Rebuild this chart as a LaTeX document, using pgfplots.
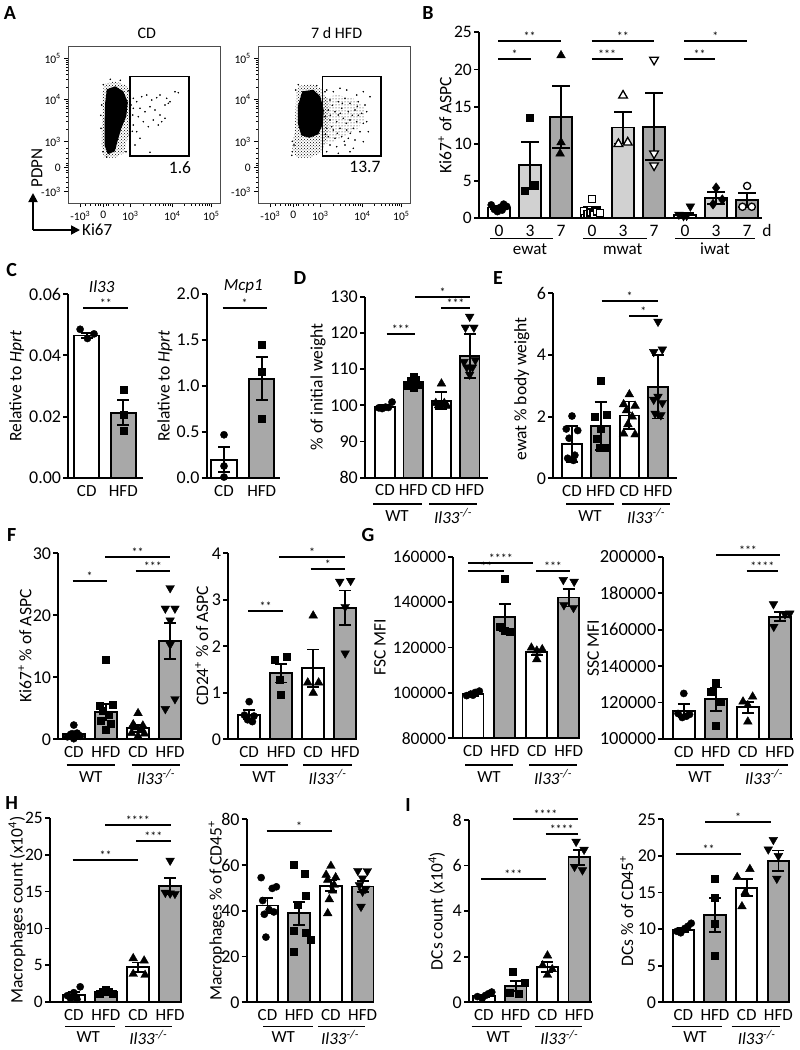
\documentclass[border=0pt]{standalone}
\usepackage{fontspec}
\setmainfont{Carlito}
\usepackage{pgfplots}
\pgfplotsset{compat=1.18}
\usetikzlibrary{arrows.meta,patterns}
\definecolor{hfd}{gray}{0.66}
\definecolor{lg}{gray}{0.82}
\newcommand{\fs}[1]{\fontsize{#1}{#1}\selectfont}
\newcommand{\KO}{\textit{Il33}\textsuperscript{\textit{-/-}}}
\pgfplotsset{
  gp/.style={scale only axis, clip=false, anchor=south west,
    axis lines=left, axis line style={line width=1.8pt,-},
    x axis line style={-}, y axis line style={-},
    tick style={line width=1.8pt, black},
    major tick length=5pt, tick align=outside,
    xtick style={draw=none},
    scaled y ticks=false,
    xtick={0,1,2,3}, xticklabels={CD,HFD,CD,HFD},
    tick label style={font=\fs{17}},
    xticklabel style={inner sep=2pt},
    yticklabel style={inner sep=2pt},
  },
  bar/.style={ybar, bar shift=0pt, draw=black, line width=1.8pt,
    /pgfplots/error bars/y dir=both, /pgfplots/error bars/y explicit,
    /pgfplots/error bars/error bar style={line width=1.8pt, black},
    /pgfplots/error bars/error mark options={rotate=90, line width=1.8pt, black, mark size=#1}},
  bar/.default=6pt,
  mc/.style={only marks, black, mark=*, mark size=3.6pt},
  ms/.style={only marks, black, mark=square*, mark size=3.5pt},
  mt/.style={only marks, black, mark=triangle*, mark size=5pt},
  mi/.style={only marks, black, mark=triangle*, mark size=5pt, every mark/.append style={rotate=180}},
  md/.style={only marks, black, mark=diamond*, mark size=5pt},
  open/.style={every mark/.append style={fill=white, line width=1.3pt}},
  flow/.style={scale only axis, anchor=south west, width=151.7pt, height=156.8pt,
    xmin=0, xmax=151.7, ymin=0, ymax=156.8,
    axis line style={line width=0.8pt, black!70},
    tick pos=left, tick align=outside, tick style={line width=0.7pt, black},
    major tick length=4pt, minor tick length=2.5pt,
    xtick={12,35,62,104,143}, ytick={11.6,35.6,61.6,104,145},
    xticklabels={-10\textsuperscript{3},0,10\textsuperscript{3},10\textsuperscript{4},10\textsuperscript{5}},
    yticklabels={-10\textsuperscript{3},0,10\textsuperscript{3},10\textsuperscript{4},10\textsuperscript{5}},
    minor xtick={17,22,27,30,32,38,40,45,50,55,74.6,82,87.3,91.4,94.7,97.5,99.9,102.1,115.8,122.6,127.5,131.3,134.4,137,139.3,141.2},
    minor ytick={16,21,26,31,33,38,40,45,50,55,74.4,81.8,87.1,91.2,94.6,97.4,99.9,102.1,116.3,123.6,128.7,132.7,135.9,138.6,141,143.1},
    tick label style={font=\fs{11.5}}},
  dots/.style={only marks, mark=*, mark size=0.55pt, black},
}
\begin{document}
\begin{tikzpicture}
\useasboundingbox (0,0) rectangle (800pt,-1050pt);

% ---------------- A: flow plots ----------------
\begin{axis}[flow, at={(68.3pt,-203.3pt)}]
\addplot[pattern=crosshatch dots, draw=none] coordinates {(36.7,119.3)(46.7,122.0)(58.4,117.6)(63.4,105.0)(63.4,85.0)(59.4,65.0)(56.0,50.6)(46.7,45.6)(35.7,45.6)(33.4,58.3)(34.0,91.6)(34.0,111.6)} --cycle;
\addplot[fill=black, draw=none] coordinates {(38.5,114)(47,117)(55,112)(59.5,101)(58,87)(53,75)(49.5,63)(46.5,52)(39.5,49)(36.3,58)(36.3,80)(36.8,100)} --cycle;
\addplot[dots] coordinates {(65.0,105.0)(68.4,101.6)(73.4,106.6)(78.4,108.3)(83.4,103.3)(88.4,105.6)(91.7,108.3)(98.4,105.0)(106.7,111.6)(110.0,110.6)(71.7,95.0)(76.7,91.6)(81.7,96.6)(86.7,93.3)(91.7,88.3)(96.7,98.3)(100.0,100.0)(101.7,101.6)(70.0,86.6)(75.0,81.6)(80.0,76.6)(90.0,78.3)(93.4,81.6)(68.4,71.6)(71.7,65.0)(66.7,58.3)(81.7,51.0)(65.0,78.3)(85.0,83.3)(96.7,85.0)(35.0,118.6)(33.4,98.3)(32.7,75.0)(34.7,51.6)(38.4,46.3)(60.0,112.6)(62.7,98.3)(64.4,88.3)(61.0,68.3)(57.7,51.6)(32.5,88)(65,95)(64,72)(42,124)(52,123)};
\addplot[draw=black, line width=1.5pt] coordinates {(61.7,47.3)(120.7,47.3)(120.7,126.6)(61.7,126.6)} --cycle;
\end{axis}

\begin{axis}[flow, at={(258.3pt,-203.3pt)}]
\addplot[pattern=dots, draw=none] coordinates {(63.4,105)(78.4,108.3)(95.0,105)(105.0,96.6)(106.7,85)(100.0,75)(88.4,68.3)(75.0,61.6)(65.0,58.3)(63.4,75)} --cycle;
\addplot[pattern=crosshatch dots, draw=none] coordinates {(41.7,117.6)(53.4,119.3)(63.4,114.3)(70.0,101.6)(70.0,71.6)(64.4,51.6)(51.7,45.6)(38.4,45.6)(34.0,55.0)(36.7,75.0)(37.4,98.3)(38.0,111.6)} --cycle;
\addplot[fill=black, draw=none] coordinates {(44,112)(55,113.5)(62,107)(65.5,93)(64.5,79)(60,69)(51,65.5)(43,68)(39.5,80)(39.5,97)} --cycle;
\addplot[dots] coordinates {(68.4,113.3)(75.0,111.6)(81.7,115.0)(88.4,113.3)(98.4,108.3)(105.0,111.6)(111.7,106.6)(71.7,103.3)(80.0,101.6)(86.7,105.0)(91.7,100.0)(100.0,101.6)(106.7,98.3)(70.0,93.3)(76.7,91.6)(83.4,95.0)(90.0,91.6)(96.7,93.3)(103.4,90.0)(108.4,91.6)(71.7,83.3)(78.4,81.6)(85.0,85.0)(91.7,83.3)(98.4,81.6)(105.0,80.0)(68.4,75.0)(75.0,73.3)(81.7,75.0)(88.4,73.3)(95.0,75.0)(101.7,71.6)(70.0,66.6)(76.7,65.0)(83.4,66.6)(90.0,65.0)(96.7,63.3)(71.7,58.3)(78.4,56.6)(86.7,58.3)(95.0,55.0)(68.4,51.6)(80.0,50.0)(91.7,51.6)(105.0,61.6)(110.0,71.6)(108.4,81.6)(66.7,86.6)(73.4,76.6)(80.0,88.3)(35.7,58.3)(34.0,51.6)(37.4,113.3)(40.0,118.6)(58.4,117.6)(66.7,111.6)(74,98)(82,90)(88,80)(94,88)(72,88)(79,70)(86,62)(99,97)(67,69)(92,70)(100,88)(84,100)(34,62)(33.5,48)};
\addplot[draw=black, line width=1.5pt] coordinates {(64,47.3)(122.7,47.3)(122.7,126.6)(64,126.6)} --cycle;
\end{axis}

% ---------------- B ----------------
\begin{axis}[gp, at={(479pt,-218.3pt)}, width=283pt, height=186pt,
  xmin=-0.645, xmax=8.48, ymin=0, ymax=25,
  xtick={0,1,2,3,4,5,6,7,8}, xticklabels={0,3,7,0,3,7,0,3,7},
  ytick={0,5,10,15,20,25}, yticklabels={0,5,10,15,20,25},
  tick label style={font=\fs{17.5}}]
\addplot[bar=9pt, bar width=21.7pt, fill=white] coordinates {(0,1.45)+-(0,0.25) (3,1.0)+-(0,0.6) (6,0.4)+-(0,0.35)};
\addplot[bar=9pt, bar width=21.7pt, fill=lg] coordinates {(1,7.13)+-(0,3.14) (4,12.2)+-(0,2.14) (7,2.7)+-(0,0.8)};
\addplot[bar=9pt, bar width=21.7pt, fill=hfd] coordinates {(2,13.6)+-(0,4.17) (5,12.3)+-(0,4.5) (8,2.45)+-(0,0.95)};
\addplot[mc] coordinates {(-0.25,1.8)(-0.15,1.2)(-0.05,0.9)(0.05,1.5)(0.15,1.9)(0.25,1.6)(0.1,1.1)};
\addplot[ms] coordinates {(0.84,3.7)(1.16,4.5)(1,13.5)};
\addplot[mt] coordinates {(2,21.9)(2,10.2)(1.97,8.7)};
\addplot[ms, open] coordinates {(2.75,1.0)(2.85,0.6)(2.95,0.8)(3,2.55)(3.05,0.5)(3.15,0.9)(3.25,0.7)};
\addplot[mt, open] coordinates {(4,16.5)(3.85,10.0)(4.15,10.2)};
\addplot[mi, open] coordinates {(5,21.3)(5,8.7)(5,7.1)};
\addplot[mi] coordinates {(5.8,0.5)(5.95,0.3)(6.05,0.35)(6.17,1.6)};
\addplot[md] coordinates {(7,4.1)(6.9,1.9)(7.2,2.5)};
\addplot[mc, open] coordinates {(8,4.35)(7.85,1.55)(8.15,1.55)};
\end{axis}

% ---------------- C ----------------
\begin{axis}[gp, at={(68.3pt,-478pt)}, width=75pt, height=184pt,
  xmin=-0.503, xmax=1.546, ymin=0, ymax=0.06,
  xtick={0,1}, xticklabels={CD,HFD},
  ytick={0,0.02,0.04,0.06}, yticklabels={0.00,0.02,0.04,0.06},
  yticklabel style={font=\fs{18}}]
\addplot[bar, bar width=25.3pt, fill=white] coordinates {(0,0.0465)+-(0,0.0009)};
\addplot[bar, bar width=25.3pt, fill=hfd] coordinates {(1,0.0213)+-(0,0.0041)};
\addplot[mc] coordinates {(-0.18,0.0485)(0.02,0.0455)(0.2,0.047)};
\addplot[ms] coordinates {(1,0.0288)(1,0.0205)(1,0.0153)};
\end{axis}

\begin{axis}[gp, at={(206.7pt,-478pt)}, width=73.3pt, height=184pt,
  xmin=-0.459, xmax=1.485, ymin=0, ymax=2,
  xtick={0,1}, xticklabels={CD,HFD},
  ytick={0,0.5,1,1.5,2}, yticklabels={0.0,0.5,1.0,1.5,2.0},
  yticklabel style={font=\fs{18}}]
\addplot[bar, bar width=25.3pt, fill=white] coordinates {(0,0.2)+-(0,0.138)};
\addplot[bar, bar width=25.3pt, fill=hfd] coordinates {(1,1.08)+-(0,0.234)};
\addplot[mc] coordinates {(0,0.47)(0,0.13)(0,0.01)};
\addplot[ms] coordinates {(1,1.45)(1,1.16)(1,0.65)};
\end{axis}

% ---------------- D ----------------
\begin{axis}[gp, clip=true, clip mode=individual, at={(365pt,-477.7pt)}, width=123.3pt, height=181pt,
  xmin=-0.708, xmax=3.66, ymin=80, ymax=130,
  ytick={80,90,100,110,120,130}, yticklabels={80,90,100,110,120,130},
  yticklabel style={font=\fs{18}}]
\addplot[bar, bar width=19.5pt, fill=white] coordinates {(0,99.6)+-(0,0.55) (2,101.3)+-(0,2.3)};
\addplot[bar, bar width=19.5pt, fill=hfd] coordinates {(1,106.5)+-(0,0.9) (3,113.6)+-(0,6.0)};
\addplot[mc] coordinates {(-0.22,99.3)(-0.1,99.1)(0.02,99.5)(0.12,99.4)(0.25,100.9)};
\addplot[ms] coordinates {(0.8,105.3)(0.9,106.8)(1.0,108.0)(1.1,107.2)(1.2,105.8)(1.0,104.8)};
\addplot[mt] coordinates {(2,106.0)(1.8,100.6)(1.9,100.0)(2.0,100.2)(2.1,100.6)(2.2,99.8)};
\addplot[mi] coordinates {(3,124.5)(2.85,121.5)(3.15,121.5)(2.8,112)(3.2,112.5)(2.9,110.5)(3.1,110.5)(3,108.5)};
\end{axis}

% ---------------- E ----------------
\begin{axis}[gp, at={(553.3pt,-478.3pt)}, width=123.4pt, height=185pt,
  xmin=-0.652, xmax=3.652, ymin=0, ymax=6,
  ytick={0,2,4,6}, yticklabels={0,2,4,6},
  yticklabel style={font=\fs{18}}]
\addplot[bar, bar width=19.4pt, fill=white] coordinates {(0,1.12)+-(0,0.58) (2,2.04)+-(0,0.45)};
\addplot[bar, bar width=19.4pt, fill=hfd] coordinates {(1,1.7)+-(0,0.77) (3,2.97)+-(0,1.03)};
\addplot[mc] coordinates {(0,2.02)(-0.2,1.6)(0.2,1.55)(-0.1,1.3)(0.1,0.75)(-0.15,0.65)(0.05,0.58)};
\addplot[ms] coordinates {(1,3.15)(0.8,2.0)(1.2,2.05)(1,1.6)(0.85,1.3)(1.15,1.0)(0.95,1.0)};
\addplot[mt] coordinates {(2,2.72)(1.8,2.4)(2.2,2.35)(1.9,2.2)(2.1,2.0)(1.95,1.75)(1.8,1.45)(2.2,1.42)};
\addplot[mi] coordinates {(3,5.08)(2.85,4.1)(3.15,4.18)(3,2.65)(2.85,2.55)(3.15,2.45)(2.9,2.1)(3.1,2.05)};
\end{axis}

% ---------------- F ----------------
\begin{axis}[gp, at={(58.3pt,-739.3pt)}, width=123.4pt, height=186pt,
  xmin=-0.483, xmax=3.36, ymin=0, ymax=30,
  ytick={0,10,20,30}, yticklabels={0,10,20,30},
  yticklabel style={font=\fs{18}}]
\addplot[bar, bar width=21.7pt, fill=white] coordinates {(0,0.85)+-(0,0.25) (2,1.77)+-(0,0.6)};
\addplot[bar, bar width=21.7pt, fill=hfd] coordinates {(1,4.4)+-(0,1.35) (3,15.8)+-(0,2.9)};
\addplot[mc] coordinates {(-0.2,0.4)(-0.1,0.8)(0,2.3)(0.1,1.0)(0.2,0.5)(0,0.1)(-0.05,0.9)(0.15,0.7)};
\addplot[ms] coordinates {(1,12.8)(0.8,5.4)(1.2,5.6)(0.9,4.6)(1.1,3.9)(0.85,3.0)(1.15,2.5)(1,1.5)};
\addplot[mt] coordinates {(2,4.2)(1.85,2.4)(2.15,2.2)(1.9,1.9)(2.1,1.6)(1.8,1.0)(2.2,0.9)(2,0.5)};
\addplot[mi] coordinates {(3,24.4)(2.85,21.1)(3.15,21.1)(3,19.2)(3,15.3)(3.15,6.5)(2.85,4.9)};
\end{axis}

\begin{axis}[gp, at={(228.3pt,-739.3pt)}, width=128.4pt, height=186pt,
  xmin=-0.653, xmax=3.36, ymin=0, ymax=4,
  ytick={0,1,2,3,4}, yticklabels={0,1,2,3,4},
  yticklabel style={font=\fs{18}}]
\addplot[bar, bar width=22pt, fill=white] coordinates {(0,0.53)+-(0,0.1) (2,1.53)+-(0,0.4)};
\addplot[bar, bar width=22pt, fill=hfd] coordinates {(1,1.42)+-(0,0.2) (3,2.83)+-(0,0.37)};
\addplot[mc] coordinates {(0,0.81)(-0.15,0.52)(0.15,0.5)(-0.05,0.42)(0.1,0.38)};
\addplot[ms] coordinates {(0.81,1.71)(1.17,1.78)(0.94,1.28)(1,0.97)};
\addplot[mt] coordinates {(2,2.66)(1.83,1.22)(2.17,1.22)(2,1.0)};
\addplot[mi] coordinates {(2.83,3.39)(3.17,3.41)(3,2.85)(3,1.85)};
\end{axis}

% ---------------- G ----------------
\begin{axis}[gp, clip=true, clip mode=individual, at={(453.3pt,-738.3pt)}, width=126.7pt, height=181.6pt,
  xmin=-0.617, xmax=3.354, ymin=80000, ymax=160000,
  ytick={80000,100000,120000,140000,160000}, yticklabels={80000,100000,120000,140000,160000},
  yticklabel style={font=\fs{17.5}}]
\addplot[bar, bar width=21pt, fill=white] coordinates {(0,99400)+-(0,700) (2,117900)+-(0,1200)};
\addplot[bar, bar width=21pt, fill=hfd] coordinates {(1,133300)+-(0,5900) (3,142000)+-(0,3900)};
\addplot[mc] coordinates {(-0.2,98800)(-0.07,99500)(0.07,100200)(0.2,100800)(0,99000)};
\addplot[ms] coordinates {(1,150400)(0.85,129200)(1.0,127400)(1.15,127000)};
\addplot[mt] coordinates {(1.83,119900)(2.0,118600)(2.17,119200)(2,114800)};
\addplot[mi] coordinates {(2.83,149800)(3.17,149000)(2.85,138700)(3.15,137500)};
\end{axis}

\begin{axis}[gp, clip=true, clip mode=individual, at={(663.3pt,-739pt)}, width=130pt, height=182.3pt,
  xmin=-0.64, xmax=3.42, ymin=100000, ymax=200000,
  ytick={100000,120000,140000,160000,180000,200000}, yticklabels={100000,120000,140000,160000,180000,200000},
  yticklabel style={font=\fs{18.5}}]
\addplot[bar, bar width=22pt, fill=white] coordinates {(0,115500)+-(0,3700) (2,117400)+-(0,3000)};
\addplot[bar, bar width=22pt, fill=hfd] coordinates {(1,121800)+-(0,6500) (3,167100)+-(0,2400)};
\addplot[mc] coordinates {(0,125000)(-0.18,114000)(0.18,113500)(-0.05,111800)(0.08,112500)};
\addplot[ms] coordinates {(1,131100)(0.85,126200)(1.15,120300)(1,107300)};
\addplot[mt] coordinates {(1.85,120500)(2.15,123200)(2,118500)(2,109500)};
\addplot[mi] coordinates {(2.8,174000)(3.16,168400)(3.31,168900)(2.81,161600)};
\end{axis}

% ---------------- H ----------------
\begin{axis}[gp, at={(50pt,-1002.3pt)}, width=131.7pt, height=184.6pt,
  xmin=-0.741, xmax=3.36, ymin=0, ymax=25,
  ytick={0,5,10,15,20,25}, yticklabels={0,5,10,15,20,25},
  yticklabel style={font=\fs{17.5}}]
\addplot[bar, bar width=21.7pt, fill=white] coordinates {(0,1.04)+-(0,0.35) (2,4.74)+-(0,0.65)};
\addplot[bar, bar width=21.7pt, fill=hfd] coordinates {(1,1.35)+-(0,0.15) (3,15.75)+-(0,1.12)};
\addplot[mc] coordinates {(-0.2,0.9)(0,1.3)(0.2,2.1)(-0.1,0.5)(0.1,0.4)};
\addplot[ms] coordinates {(0.8,1.2)(0.9,1.5)(1.0,1.7)(1.1,1.4)(1.2,1.1)};
\addplot[mt] coordinates {(1.85,5.96)(2.19,5.64)(1.85,3.84)(2.22,3.7)};
\addplot[mi] coordinates {(3,19.2)(2.85,14.85)(3.0,14.75)(3.15,14.7)};
\end{axis}

\begin{axis}[gp, at={(246.7pt,-1002.3pt)}, width=127.3pt, height=183pt,
  xmin=-0.656, xmax=3.36, ymin=0, ymax=80,
  ytick={0,20,40,60,80}, yticklabels={0,20,40,60,80},
  yticklabel style={font=\fs{18}}]
\addplot[bar, bar width=21.7pt, fill=white] coordinates {(0,42.3)+-(0,3.4) (2,51.0)+-(0,2.5)};
\addplot[bar, bar width=21.7pt, fill=hfd] coordinates {(1,38.9)+-(0,5.1) (3,50.6)+-(0,2.5)};
\addplot[mc] coordinates {(-0.2,54.5)(0.15,49.8)(0.28,50.5)(-0.15,44.5)(0.05,40.5)(0.2,39.5)(-0.1,38.5)(-0.05,28.5)};
\addplot[ms] coordinates {(0.84,60)(1.16,56.1)(1.19,46.8)(0.95,42.6)(0.82,31.3)(1.19,30.5)(0.82,22.1)(1.35,27.5)};
\addplot[mt] coordinates {(2,59.6)(1.85,55.7)(2.15,54.6)(1.9,53.5)(2.1,51.3)(2.05,48.8)(1.95,45)(1.9,38.9)};
\addplot[mi] coordinates {(2.85,57.5)(3.15,57.4)(3.0,54.2)(2.9,51.3)(3.1,49.7)(3.0,48.4)(2.95,41.8)};
\end{axis}

% ---------------- I ----------------
\begin{axis}[gp, at={(469pt,-1002.3pt)}, width=122.7pt, height=182.3pt,
  xmin=-0.465, xmax=3.39, ymin=0, ymax=8,
  ytick={0,2,4,6,8}, yticklabels={0,2,4,6,8},
  yticklabel style={font=\fs{18}}]
\addplot[bar, bar width=21.7pt, fill=white] coordinates {(0,0.28)+-(0,0.06) (2,1.56)+-(0,0.22)};
\addplot[bar, bar width=21.7pt, fill=hfd] coordinates {(1,0.72)+-(0,0.23) (3,6.36)+-(0,0.32)};
\addplot[mc] coordinates {(-0.2,0.25)(-0.05,0.18)(0.05,0.3)(0.15,0.38)(0.25,0.45)};
\addplot[ms] coordinates {(0.9,1.35)(1.3,0.86)(0.8,0.42)(1.1,0.37)};
\addplot[mt] coordinates {(2,2.05)(1.85,1.62)(2.15,1.45)(2,1.2)};
\addplot[mi] coordinates {(2.9,7.05)(3.15,6.7)(2.85,5.95)(3.1,5.8)};
\end{axis}

\begin{axis}[gp, at={(663.3pt,-1002.3pt)}, width=126.7pt, height=183pt,
  xmin=-0.631, xmax=3.366, ymin=0, ymax=25,
  ytick={0,5,10,15,20,25}, yticklabels={0,5,10,15,20,25},
  yticklabel style={font=\fs{18}}]
\addplot[bar, bar width=21.3pt, fill=white] coordinates {(0,9.9)+-(0,0.25) (2,15.66)+-(0,1.15)};
\addplot[bar, bar width=21.3pt, fill=hfd] coordinates {(1,11.9)+-(0,2.3) (3,19.35)+-(0,1.4)};
\addplot[mc] coordinates {(-0.2,9.7)(-0.08,9.5)(0.05,10.1)(0.15,10.4)(0.25,10.8)};
\addplot[ms] coordinates {(1,16.9)(1,14.3)(1,10.8)(1,6.4)};
\addplot[mt] coordinates {(2.1,18.2)(1.7,17.1)(1.95,15.0)(1.85,13.1)};
\addplot[mi] coordinates {(2.84,22.2)(2.68,20.9)(3.0,20.0)(2.95,16.9)};
\end{axis}

% ---------------- annotations ----------------
\begin{scope}[x=1pt,y=1pt]
\newcommand{\sig}[4]{\draw[line width=1.8pt] (#1,-#3) -- (#2,-#3);
  \node[font=\fs{12}, anchor=base, inner sep=0pt] at ({(#1+#2)/2},{0.5-#3}) {#4};}
\newcommand{\gline}[3]{\draw[line width=1.5pt] (#1,-#3) -- (#2,-#3);}
\newcommand{\glab}[3]{\node[font=\fs{17}, inner sep=0pt] at (#1,-#2) {#3};}
\newcommand{\ylab}[3]{\node[rotate=90, font=\fs{17.5}, inner sep=0pt] at (#1,-#2) {#3};}
\newcommand{\plab}[3]{\node[font=\fs{20}\bfseries, inner sep=0pt] at (#1,-#2) {#3};}
% panel letters
\plab{10}{13}{A}\plab{428}{13}{B}\plab{11.7}{270}{C}\plab{300}{278}{D}\plab{498}{278}{E}
\plab{11.7}{535}{F}\plab{368}{535}{G}\plab{11.7}{803}{H}\plab{408}{805}{I}
% A texts
\node[font=\fs{16}] at (146.7,-33.3) {CD};
\node[font=\fs{16}] at (336.7,-33.3) {7 d HFD};
\node[font=\fs{17.5}] at (180,-168) {1.6};
\node[font=\fs{17.5}] at (365,-167) {13.7};
\draw[line width=1.8pt, -{Triangle[length=9pt,width=9pt]}] (33,-230) -- (33,-193);
\draw[line width=1.8pt, -{Triangle[length=9pt,width=9pt]}] (33,-230) -- (80,-230);
\node[rotate=90, font=\fs{17}, inner sep=0pt] at (37,-168) {PDPN};
\node[font=\fs{17}, anchor=west, inner sep=0pt] at (82,-230) {Ki67};
% B
\ylab{445}{125}{Ki67\textsuperscript{+} of ASPC}
\sig{498}{561}{40.7}{**}\sig{498}{531}{59.3}{*}
\sig{591.7}{654}{40.7}{**}\sig{591.7}{622.7}{59.3}{***}
\sig{684}{746.7}{40.7}{*}\sig{684}{715}{59.3}{**}
\node[font=\fs{17.5}] at (767,-230) {d};
\gline{490}{553}{238.3}\gline{583}{647}{238.3}\gline{675}{755}{238.3}
\glab{530}{249}{ewat}\glab{622.7}{249}{mwat}\glab{715}{249}{iwat}
% C
\node[font=\fs{17}\itshape] at (101.7,-286.7) {Il33};
\node[font=\fs{17}\itshape] at (243.3,-286.7) {Mcp1};
\sig{83.3}{128.3}{307.7}{**}\sig{222.7}{266.7}{307.7}{*}
\ylab{16.7}{386}{Relative to \textit{Hprt}}
\ylab{165}{386}{Relative to \textit{Hprt}}
% D
\ylab{318}{387}{\% of initial weight}
\sig{386.7}{415}{334}{***}\sig{415}{470}{296.7}{*}\sig{441}{470}{308.3}{***}
\gline{373}{422}{504}\gline{429}{477}{504}
\glab{397}{516}{WT}\glab{453}{516}{\KO}
% E
\ylab{521.7}{389}{ewat \% body weight}
\sig{601.7}{657.7}{300.7}{*}\sig{629}{657.7}{315.7}{*}
\gline{566}{614}{504}\gline{622}{670}{504}
\glab{590}{516}{WT}\glab{646}{516}{\KO}
% F
\ylab{25}{646}{Ki67\textsuperscript{+} \% of ASPC}
\ylab{201.7}{646}{CD24\textsuperscript{+} \% of ASPC}
\sig{105}{170}{557.3}{**}\sig{135.7}{170}{571}{***}\sig{72.7}{106.7}{581}{*}
\sig{279.3}{345}{557.3}{*}\sig{310.7}{345}{569.3}{*}\sig{248.3}{282.7}{611}{**}
\gline{66.7}{115}{765}\gline{131.7}{180}{765}\gline{240}{288.3}{765}\gline{303.3}{351.7}{765}
\glab{90.8}{777}{WT}\glab{156}{777}{\KO}\glab{264}{777}{WT}\glab{327.5}{777}{\KO}
% G
\ylab{380}{647.5}{FSC MFI}
\ylab{593.3}{648}{SSC MFI}
\sig{468.3}{533.3}{562.7}{****}\sig{468.3}{504.3}{570.7}{**}\sig{536}{570}{570.7}{***}
\sig{716}{780}{555}{***}\sig{746.7}{778}{571}{****}
\gline{465}{513}{765}\gline{529}{577}{765}\gline{676}{724}{765}\gline{740}{788}{765}
\glab{489}{777}{WT}\glab{553}{777}{\KO}\glab{700}{777}{WT}\glab{764}{777}{\KO}
% H
\ylab{17}{910}{Macrophages count (x10\textsuperscript{4})}
\ylab{216.7}{911}{Macrophages \% of CD45\textsuperscript{+}}
\sig{105}{170.7}{825}{****}\sig{136}{170.7}{840.7}{***}\sig{72.7}{138.3}{860}{**}
\sig{266.7}{331.7}{831}{*}
\gline{65}{115}{1026.7}\gline{125}{171.7}{1026.7}\gline{263.3}{313.3}{1026.7}\gline{318}{365}{1026.7}
\glab{88.3}{1037.3}{WT}\glab{148.3}{1037.3}{\KO}\glab{283.3}{1037.3}{WT}\glab{340}{1037.3}{\KO}
% I
\ylab{436.7}{911}{DCs count (x10\textsuperscript{4})}
\ylab{626.7}{911}{DCs \% of CD45\textsuperscript{+}}
\sig{513.3}{577.7}{819.3}{****}\sig{545.7}{577.7}{834.3}{****}\sig{481}{545.7}{879}{***}
\sig{705}{771}{822.3}{*}\sig{676}{741}{854.3}{**}
\gline{471.7}{521.7}{1026.7}\gline{535}{581.7}{1026.7}\gline{671.7}{721.7}{1026.7}\gline{731.7}{780}{1026.7}
\glab{498.3}{1037.3}{WT}\glab{559.3}{1037.3}{\KO}\glab{695}{1037.3}{WT}\glab{756.7}{1037.3}{\KO}
\end{scope}
\end{tikzpicture}
\end{document}
